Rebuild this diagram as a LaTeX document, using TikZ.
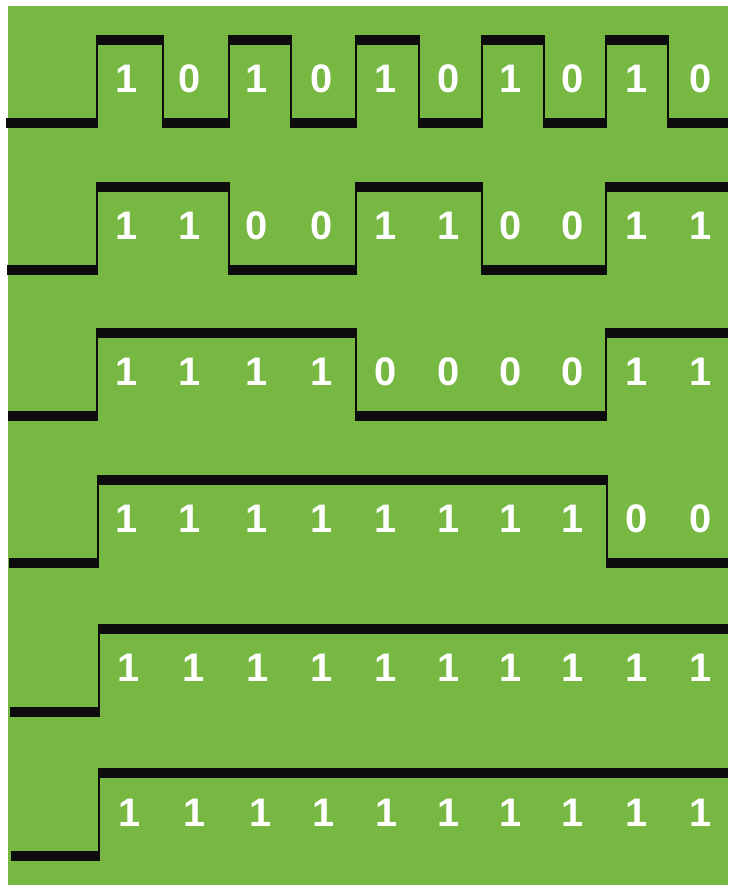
\documentclass[tikz,border=0pt]{standalone}
\usepackage{fontspec}
\newfontfamily\digitfont{Liberation Sans}
\definecolor{pgreen}{RGB}{118,184,66}
\definecolor{pblack}{RGB}{12,12,12}
\usetikzlibrary{arrows.meta,positioning}

\tikzset{
  edge/.style={pblack, line width=0.81mm, line join=miter},
  bar/.style={pblack, line width=2.85mm, line cap=butt},
  bit/.style={font=\digitfont\bfseries\fontsize{34}{34}\selectfont, text=white, inner sep=0pt}
}

\begin{document}
\begin{tikzpicture}[x=0.03cm, y=-0.03cm]
  % Paper
  \fill[white] (0,0) rectangle (728,888);
  \fill[pgreen] (8,6) rectangle (728,885);

  % Row 1: 1010101010
  \draw[edge] (6,126.1) -| (97,36.4) -| (163,126.1) -| (229,36.4) -| (291,126.1) -| (356,36.4) -| (419,126.1) -| (482,36.4) -| (544,126.1) -| (606,36.4) -| (668,126.1) -- (728,126.1);
  \draw[bar] (95.6,39.75) -- (164.4,39.75) (227.6,39.75) -- (292.4,39.75) (354.6,39.75) -- (420.4,39.75) (480.6,39.75) -- (545.4,39.75) (604.6,39.75) -- (669.4,39.75);
  \draw[bar] (6,122.75) -- (98.4,122.75) (161.6,122.75) -- (230.4,122.75) (289.6,122.75) -- (357.4,122.75) (417.6,122.75) -- (483.4,122.75) (542.6,122.75) -- (607.4,122.75) (666.6,122.75) -- (728,122.75);
  \node[bit] (r1d1) at (127,79) {1};
  \node[bit] (r1d2) at (190,79) {0};
  \node[bit] (r1d3) at (257,79) {1};
  \node[bit] (r1d4) at (322,79) {0};
  \node[bit] (r1d5) at (386,79) {1};
  \node[bit] (r1d6) at (449,79) {0};
  \node[bit] (r1d7) at (511,79) {1};
  \node[bit] (r1d8) at (573,79) {0};
  \node[bit] (r1d9) at (637,79) {1};
  \node[bit] (r1d10) at (701,79) {0};

  % Row 2: 1100110011
  \draw[edge] (7,273.1) -| (97,183.4) -| (229,273.1) -| (356,183.4) -| (482,273.1) -| (606,183.4) -- (728,183.4);
  \draw[bar] (95.6,186.75) -- (230.4,186.75) (354.6,186.75) -- (483.4,186.75) (604.6,186.75) -- (728,186.75);
  \draw[bar] (7,269.75) -- (98.4,269.75) (227.6,269.75) -- (357.4,269.75) (480.6,269.75) -- (607.4,269.75);
  \node[bit] (r2d1) at (127,226) {1};
  \node[bit] (r2d2) at (190,226) {1};
  \node[bit] (r2d3) at (257,226) {0};
  \node[bit] (r2d4) at (322,226) {0};
  \node[bit] (r2d5) at (386,226) {1};
  \node[bit] (r2d6) at (449,226) {1};
  \node[bit] (r2d7) at (511,226) {0};
  \node[bit] (r2d8) at (573,226) {0};
  \node[bit] (r2d9) at (637,226) {1};
  \node[bit] (r2d10) at (701,226) {1};

  % Row 3: 1111000011
  \draw[edge] (8,419.1) -| (97,329.4) -| (356,419.1) -| (606,329.4) -- (728,329.4);
  \draw[bar] (95.6,332.75) -- (357.4,332.75) (604.6,332.75) -- (728,332.75);
  \draw[bar] (8,415.75) -- (98.4,415.75) (354.6,415.75) -- (607.4,415.75);
  \node[bit] (r3d1) at (127,372) {1};
  \node[bit] (r3d2) at (190,372) {1};
  \node[bit] (r3d3) at (257,372) {1};
  \node[bit] (r3d4) at (322,372) {1};
  \node[bit] (r3d5) at (386,372) {0};
  \node[bit] (r3d6) at (449,372) {0};
  \node[bit] (r3d7) at (511,372) {0};
  \node[bit] (r3d8) at (573,372) {0};
  \node[bit] (r3d9) at (637,372) {1};
  \node[bit] (r3d10) at (701,372) {1};

  % Row 4: 1111111100
  \draw[edge] (9,566.1) -| (98,476.4) -| (607,566.1) -- (728,566.1);
  \draw[bar] (96.6,479.75) -- (608.4,479.75);
  \draw[bar] (9,562.75) -- (99.4,562.75) (605.6,562.75) -- (728,562.75);
  \node[bit] (r4d1) at (127,519) {1};
  \node[bit] (r4d2) at (190,519) {1};
  \node[bit] (r4d3) at (257,519) {1};
  \node[bit] (r4d4) at (322,519) {1};
  \node[bit] (r4d5) at (386,519) {1};
  \node[bit] (r4d6) at (449,519) {1};
  \node[bit] (r4d7) at (511,519) {1};
  \node[bit] (r4d8) at (573,519) {1};
  \node[bit] (r4d9) at (637,519) {0};
  \node[bit] (r4d10) at (701,519) {0};

  % Row 5: 1111111111
  \draw[edge] (10,715.1) -| (99,625.4) -- (728,625.4);
  \draw[bar] (97.6,628.75) -- (728,628.75);
  \draw[bar] (10,711.75) -- (100.4,711.75);
  \node[bit] (r5d1) at (129,668) {1};
  \node[bit] (r5d2) at (194,668) {1};
  \node[bit] (r5d3) at (258,668) {1};
  \node[bit] (r5d4) at (322,668) {1};
  \node[bit] (r5d5) at (386,668) {1};
  \node[bit] (r5d6) at (449,668) {1};
  \node[bit] (r5d7) at (511,668) {1};
  \node[bit] (r5d8) at (573,668) {1};
  \node[bit] (r5d9) at (637,668) {1};
  \node[bit] (r5d10) at (701,668) {1};

  % Row 6: 1111111111
  \draw[edge] (11,859.1) -| (99,769.4) -- (728,769.4);
  \draw[bar] (97.6,772.75) -- (728,772.75);
  \draw[bar] (11,855.75) -- (100.4,855.75);
  \node[bit] (r6d1) at (130,813) {1};
  \node[bit] (r6d2) at (195,813) {1};
  \node[bit] (r6d3) at (261,813) {1};
  \node[bit] (r6d4) at (324,813) {1};
  \node[bit] (r6d5) at (387,813) {1};
  \node[bit] (r6d6) at (449,813) {1};
  \node[bit] (r6d7) at (511,813) {1};
  \node[bit] (r6d8) at (573,813) {1};
  \node[bit] (r6d9) at (637,813) {1};
  \node[bit] (r6d10) at (701,813) {1};
\end{tikzpicture}
\end{document}
